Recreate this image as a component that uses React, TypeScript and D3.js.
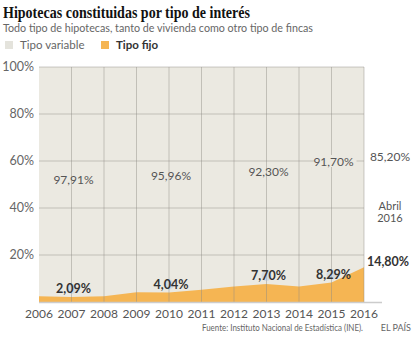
import React from "react";
import * as d3 from "d3";

const years = [2006, 2007, 2008, 2009, 2010, 2011, 2012, 2013, 2014, 2015, 2016];
const fixedRate = [2.5, 2.09, 2.4, 4.2, 4.04, 5.2, 6.6, 7.7, 6.6, 8.29, 14.8];
const yTicks = [20, 40, 60, 80, 100];
const variableLabels = [
  { year: 2007, text: "97,91%", dy: 0 },
  { year: 2010, text: "95,96%", dy: -4 },
  { year: 2013, text: "92,30%", dy: -8 },
  { year: 2015, text: "91,70%", dy: -18 },
];
const fixedLabels = [
  { year: 2007, text: "2,09%" },
  { year: 2010, text: "4,04%" },
  { year: 2013, text: "7,70%" },
  { year: 2015, text: "8,29%" },
];

const SANS = "Lato, 'Open Sans', sans-serif";

export default function App() {
  const x = d3.scaleLinear().domain([2006, 2016]).range([39, 364]);
  const y = d3.scaleLinear().domain([0, 100]).range([302, 67]);
  const data = years.map((yr, i) => ({ yr, v: fixedRate[i] }));
  const area = d3
    .area<{ yr: number; v: number }>()
    .x((d) => x(d.yr))
    .y0(y(0))
    .y1((d) => y(d.v));
  const vAt = (yr: number) => fixedRate[years.indexOf(yr)];
  return (
    <svg width={414} height={338} style={{ position: "absolute", left: 0, top: 0, background: "#fff" }}>
      <text x={3} y={18} fontFamily="'Liberation Serif', serif" fontWeight="bold" fontSize={17} fill="#111" textLength={247} lengthAdjust="spacingAndGlyphs">
        Hipotecas constituidas por tipo de interés
      </text>
      <text x={3} y={32} fontFamily={SANS} fontSize={11.5} fill="#666" textLength={310} lengthAdjust="spacingAndGlyphs">
        Todo tipo de hipotecas, tanto de vivienda como otro tipo de fincas
      </text>
      <rect x={5} y={41} width={8} height={8} fill="#e4e3dc" />
      <text x={20} y={49} fontFamily={SANS} fontSize={11.5} fill="#666">Tipo variable</text>
      <rect x={101} y={41} width={8} height={8} fill="#f5b553" />
      <text x={116} y={49} fontFamily={SANS} fontSize={11.5} fontWeight="bold" fill="#333">Tipo fijo</text>

      <rect x={x(2006)} y={y(100)} width={x(2016) - x(2006)} height={y(0) - y(100)} fill="#ebe9e1" />
      <path d={area(data) || ""} fill="#f5b553" />

      {yTicks.map((t) => (
        <line key={"h" + t} x1={x(2006)} x2={x(2016)} y1={y(t)} y2={y(t)} stroke="#8f8c84" strokeOpacity={0.45} strokeWidth={1} />
      ))}
      {years.slice(1).map((yr) => (
        <line key={"v" + yr} x1={x(yr)} x2={x(yr)} y1={y(100)} y2={y(0)} stroke="#8f8c84" strokeOpacity={0.45} strokeWidth={1} />
      ))}
      <line x1={x(2006)} x2={382} y1={y(0) + 0.5} y2={y(0) + 0.5} stroke="#ccc" strokeWidth={1.5} />

      {yTicks.map((t) => (
        <text key={"yt" + t} x={34} y={y(t) + 4} textAnchor="end" fontFamily={SANS} fontSize={12.5} fill="#666">
          {t}%
        </text>
      ))}
      {years.map((yr) => (
        <text key={"xt" + yr} x={x(yr)} y={318} textAnchor="middle" fontFamily={SANS} fontSize={12} fill="#555">
          {yr}
        </text>
      ))}

      {variableLabels.map((l) => (
        <g key={"vl" + l.year}>
          {l.year === 2015 && (
            <rect x={x(l.year) + 4 - 21} y={y(60) - 6} width={42} height={12} fill="#ebe9e1" />
          )}
          <text x={x(l.year) + 2} y={184 + l.dy} textAnchor="middle" fontFamily={SANS} fontSize={12} fill="#555">
            {l.text}
          </text>
        </g>
      ))}
      <text x={390} y={161} textAnchor="middle" fontFamily={SANS} fontSize={12} fill="#555">85,20%</text>
      <text x={390} y={210} textAnchor="middle" fontFamily={SANS} fontSize={11} fill="#555">Abril</text>
      <text x={390} y={222} textAnchor="middle" fontFamily={SANS} fontSize={11} fill="#555">2016</text>

      {fixedLabels.map((l) => {
        const cy = y(vAt(l.year)) - 8;
        return (
          <g key={"fl" + l.year}>
            <circle cx={x(l.year)} cy={cy} r={5} fill="#a9c4e6" fillOpacity={0.4} />
            <text x={x(l.year) + 2} y={cy + 4} textAnchor="middle" fontFamily={SANS} fontWeight="bold" fontSize={12.5} fill="#333">
              {l.text}
            </text>
          </g>
        );
      })}
      <text x={388} y={266} textAnchor="middle" fontFamily={SANS} fontWeight="bold" fontSize={12.5} fill="#333">14,80%</text>

      <text x={363} y={331} textAnchor="end" fontFamily={SANS} fontSize={8.5} fill="#666" textLength={161} lengthAdjust="spacingAndGlyphs">
        Fuente: Instituto Nacional de Estadística (INE).
      </text>
      <text x={411} y={331} textAnchor="end" fontFamily={SANS} fontSize={9} fill="#666">EL PAÍS</text>
    </svg>
  );
}
